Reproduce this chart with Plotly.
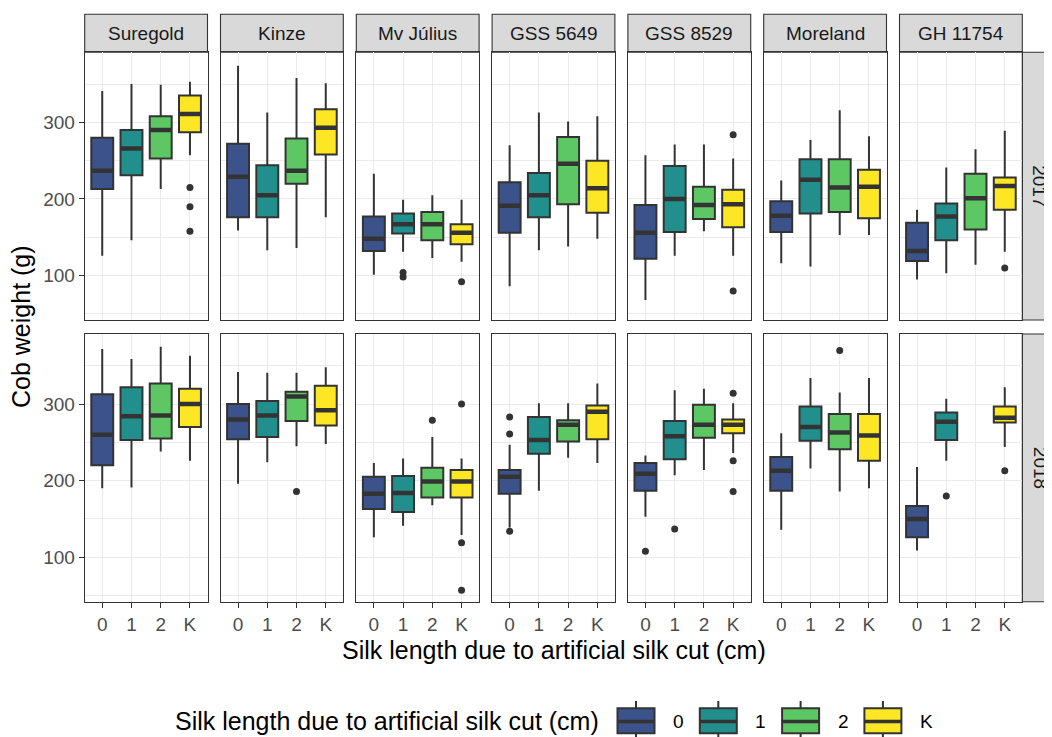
import plotly.graph_objects as go
from plotly.subplots import make_subplots

VARIETIES = ["Suregold", "Kinze", "Mv Július", "GSS 5649", "GSS 8529", "Moreland", "GH 11754"]
YEARS = ["2017", "2018"]
GROUPS = ["0", "1", "2", "K"]
COLORS = ["#3B528B", "#21908C", "#5DC863", "#FDE725"]

# ---- 2017: per variety, values for groups 0, 1, 2, K ----
LOW_2017 = [[126, 146, 213, 257], [159, 133, 136, 176], [101, 131, 123, 118], [86, 133, 138, 148],
            [68, 126, 158, 126], [116, 112, 153, 153], [95, 103, 114, 131]]
Q1_2017 = [[213, 231, 253, 287], [176, 176, 220, 258], [132, 155, 146, 141], [156, 176, 193, 182],
           [122, 157, 174, 163], [157, 181, 183, 175], [119, 146, 160, 186]]
MED_2017 = [[237, 266, 290, 311], [229, 205, 237, 293], [148, 167, 167, 156], [191, 205, 246, 214],
            [156, 200, 192, 193], [178, 225, 215, 216], [132, 177, 201, 217]]
Q3_2017 = [[280, 290, 308, 335], [272, 244, 279, 317], [177, 181, 183, 167], [222, 234, 281, 250],
           [192, 243, 216, 212], [197, 252, 252, 238], [169, 194, 233, 228]]
HIGH_2017 = [[341, 350, 349, 353], [374, 313, 358, 351], [233, 199, 205, 199], [270, 313, 301, 308],
             [257, 271, 271, 253], [224, 277, 316, 282], [186, 241, 265, 289]]
OUT_2017 = [[[], [], [], [215, 190, 158]], [[], [], [], []], [[], [104, 98], [], [92]], [[], [], [], []],
            [[], [], [], [284, 80]], [[], [], [], []], [[], [], [], [110]]]

# ---- 2018 ----
LOW_2018 = [[190, 191, 238, 226], [196, 224, 245, 248], [126, 141, 168, 129], [139, 187, 230, 223],
            [153, 207, 214, 236], [136, 216, 186, 190], [109, 226, None, 244]]
Q1_2018 = [[220, 253, 255, 270], [254, 257, 278, 272], [163, 159, 178, 178], [183, 235, 251, 254],
           [187, 228, 256, 262], [187, 252, 241, 226], [126, 253, None, 276]]
MED_2018 = [[260, 284, 285, 300], [280, 285, 310, 292], [183, 184, 199, 199], [205, 253, 273, 290],
            [209, 258, 273, 273], [213, 270, 263, 259], [150, 277, None, 282]]
Q3_2018 = [[313, 322, 327, 320], [300, 304, 316, 324], [205, 206, 217, 214], [214, 283, 279, 298],
           [223, 278, 299, 280], [231, 297, 287, 287], [167, 289, None, 297]]
HIGH_2018 = [[372, 359, 375, 363], [342, 341, 341, 348], [223, 229, 257, 229], [247, 301, 301, 327],
             [233, 318, 320, 301], [262, 334, 315, 334], [218, 307, None, 322]]
OUT_2018 = [[[], [], [], []], [[], [], [186], []], [[], [], [279], [300, 119, 57]], [[283, 261, 134], [], [], []],
            [[108], [137], [], [314, 226, 186]], [[], [], [370], []], [[], [180], [], [213]]]

YEAR_DATA = [
    (LOW_2017, Q1_2017, MED_2017, Q3_2017, HIGH_2017, OUT_2017),
    (LOW_2018, Q1_2018, MED_2018, Q3_2018, HIGH_2018, OUT_2018),
]

# page body has an 8px margin: figure is drawn from (8, 8)
OFF = 8
W, H = 1052 - OFF, 737 - OFF
FONT = "Arial, Liberation Sans, sans-serif"
DARK = "#333333"
GRID = "#EBEBEB"
BOX_W = 0.75
SMALL = 19
BIG = 25


def px(x):
    return (x - OFF) / W


def py(y):
    return 1 - (y - OFF) / H


fig = make_subplots(rows=2, cols=7)

for r, (low, q1, med, q3, high, outs) in enumerate(YEAR_DATA):
    for c in range(len(VARIETIES)):
        for g in range(len(GROUPS)):
            if med[c][g] is None:
                continue
            fig.add_trace(go.Box(
                x=[g], q1=[q1[c][g]], median=[med[c][g]], q3=[q3[c][g]],
                lowerfence=[low[c][g]], upperfence=[high[c][g]],
                width=BOX_W, whiskerwidth=0, boxpoints=False,
                fillcolor=COLORS[g], line=dict(color=DARK, width=2),
                showlegend=False, name=GROUPS[g],
            ), row=r + 1, col=c + 1)
            fig.add_trace(go.Scatter(
                x=[g - BOX_W / 2 + 0.02, g + BOX_W / 2 - 0.02], y=[med[c][g], med[c][g]],
                mode="lines", line=dict(color=DARK, width=4.5),
                showlegend=False, hoverinfo="skip",
            ), row=r + 1, col=c + 1)
            if outs[c][g]:
                fig.add_trace(go.Scatter(
                    x=[g] * len(outs[c][g]), y=outs[c][g], mode="markers",
                    marker=dict(color=DARK, size=7),
                    showlegend=False,
                ), row=r + 1, col=c + 1)

# panel geometry (pixels in the final screenshot)
LEFT0, STEP, PW = 84.7, 135.8, 122.8
ROWS_PX = [(52.3, 320.0), (334.0, 601.7)]

for r in range(2):
    top, bot = ROWS_PX[r]
    for c in range(7):
        x0 = LEFT0 + c * STEP
        fig.update_xaxes(
            domain=[px(x0), px(x0 + PW)], range=[-0.6, 3.6],
            tickmode="array", tickvals=[0, 1, 2, 3], ticktext=GROUPS,
            showgrid=True, gridcolor=GRID, gridwidth=1.1, zeroline=False,
            showline=True, mirror=True, linecolor=DARK, linewidth=1.1,
            ticks="outside" if r == 1 else "", ticklen=5, tickcolor=DARK, tickwidth=1.1,
            showticklabels=(r == 1), tickfont=dict(family=FONT, size=SMALL, color="#4D4D4D"),
            automargin=False, row=r + 1, col=c + 1,
        )
        fig.update_yaxes(
            domain=[py(bot), py(top)], range=[42, 391.5],
            tickmode="array", tickvals=[100, 200, 300],
            showgrid=True, gridcolor=GRID, gridwidth=1.1, zeroline=False,
            minor=dict(tickvals=[50, 150, 250, 350], showgrid=True, gridcolor=GRID, gridwidth=0.6, ticklen=0),
            showline=True, mirror=True, linecolor=DARK, linewidth=1.1,
            ticks="outside" if c == 0 else "", ticklen=5, tickcolor=DARK, tickwidth=1.1,
            showticklabels=(c == 0), tickfont=dict(family=FONT, size=SMALL, color="#4D4D4D"),
            automargin=False, row=r + 1, col=c + 1,
        )

shapes = []
annotations = []
# top strips
for c, name in enumerate(VARIETIES):
    x0 = LEFT0 + c * STEP
    shapes.append(dict(type="rect", xref="paper", yref="paper",
                       x0=px(x0), x1=px(x0 + PW), y0=py(52.3), y1=py(14.3),
                       fillcolor="#D9D9D9", line=dict(color=DARK, width=1.1), layer="below"))
    annotations.append(dict(text=name, xref="paper", yref="paper", x=px(x0 + PW / 2), y=py(33.5),
                            showarrow=False, xanchor="center", yanchor="middle",
                            font=dict(family=FONT, size=SMALL, color="#1A1A1A")))
# right strips
rx0 = LEFT0 + 6 * STEP + PW
for r, yr in enumerate(YEARS):
    top, bot = ROWS_PX[r]
    shapes.append(dict(type="rect", xref="paper", yref="paper",
                       x0=px(rx0), x1=px(rx0 + 38), y0=py(bot), y1=py(top),
                       fillcolor="#D9D9D9", line=dict(color=DARK, width=1.1), layer="below"))
    annotations.append(dict(text=yr, xref="paper", yref="paper", x=px(1040), y=py((top + bot) / 2),
                            showarrow=False, xanchor="center", yanchor="middle", textangle=90,
                            font=dict(family=FONT, size=SMALL, color="#1A1A1A")))

TITLE_X = "Silk length due to artificial silk cut (cm)"
annotations.append(dict(text="Cob weight (g)", xref="paper", yref="paper", x=px(21), y=py(327),
                        showarrow=False, textangle=-90, xanchor="center", yanchor="middle",
                        font=dict(family=FONT, size=BIG, color="black")))
annotations.append(dict(text=TITLE_X, xref="paper", yref="paper", x=px(554), y=py(650),
                        showarrow=False, xanchor="center", yanchor="middle",
                        font=dict(family=FONT, size=BIG, color="black")))

# legend (drawn manually, ggplot style)
annotations.append(dict(text=TITLE_X, xref="paper", yref="paper", x=px(601), y=py(721),
                        showarrow=False, xanchor="right", yanchor="middle",
                        font=dict(family=FONT, size=BIG, color="black")))
KEY_CX0, KEY_STEP, KEY_HW = 636, 82.3, 18.5
for g, lab in enumerate(GROUPS):
    cx = KEY_CX0 + g * KEY_STEP
    shapes.append(dict(type="line", xref="paper", yref="paper", x0=px(cx), x1=px(cx),
                       y0=py(701), y1=py(708.3), line=dict(color=DARK, width=2)))
    shapes.append(dict(type="line", xref="paper", yref="paper", x0=px(cx), x1=px(cx),
                       y0=py(733.3), y1=py(741), line=dict(color=DARK, width=2)))
    shapes.append(dict(type="rect", xref="paper", yref="paper",
                       x0=px(cx - KEY_HW), x1=px(cx + KEY_HW), y0=py(733.3), y1=py(708.3),
                       fillcolor=COLORS[g], line=dict(color=DARK, width=2)))
    shapes.append(dict(type="line", xref="paper", yref="paper", x0=px(cx - KEY_HW), x1=px(cx + KEY_HW),
                       y0=py(721.5), y1=py(721.5), line=dict(color=DARK, width=3.5)))
    annotations.append(dict(text=lab, xref="paper", yref="paper", x=px(cx + 35), y=py(721),
                            showarrow=False, xanchor="left", yanchor="middle",
                            font=dict(family=FONT, size=SMALL, color="black")))

fig.update_layout(
    width=W, height=H, margin=dict(l=0, r=0, t=0, b=0),
    plot_bgcolor="white", paper_bgcolor="white",
    showlegend=False, shapes=shapes, annotations=annotations,
    font=dict(family=FONT),
)

fig.write_html("out.html")
